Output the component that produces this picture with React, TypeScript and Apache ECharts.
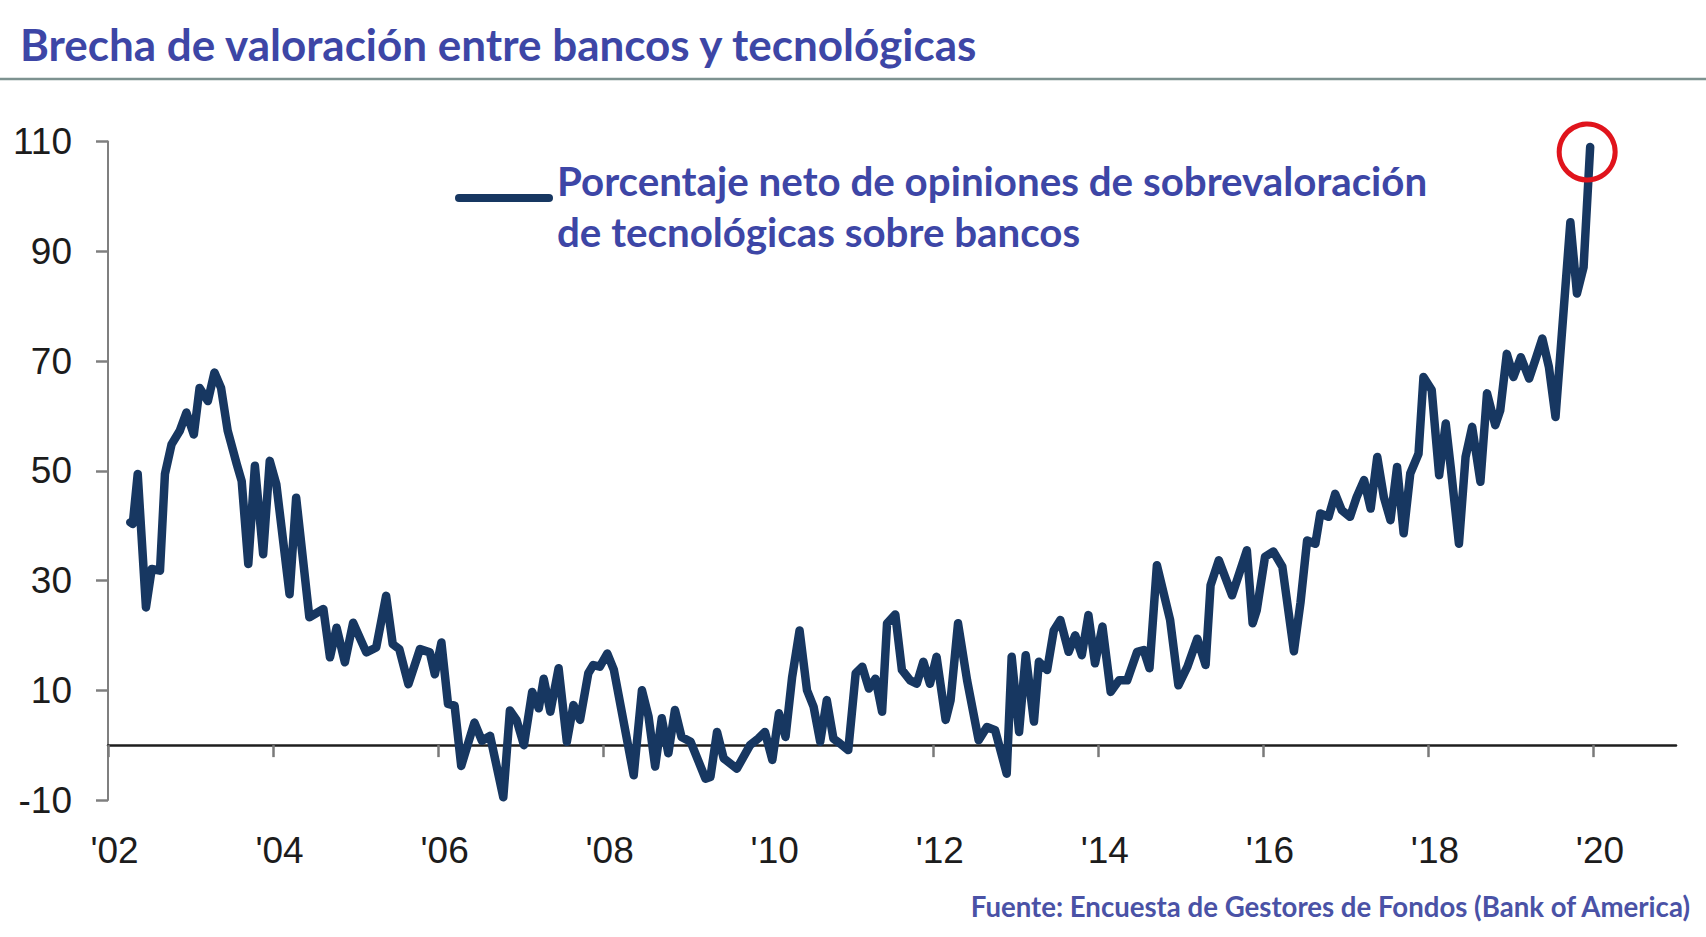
import React, { useEffect, useRef } from 'react';
import * as echarts from 'echarts';

// Survey dates (decimal years) and net % of managers saying tech is overvalued vs banks
const years: number[] = [
  2002.27, 2002.30, 2002.36, 2002.46, 2002.53, 2002.63, 2002.69, 2002.77, 2002.87, 2002.95,
  2003.04, 2003.11, 2003.21, 2003.29, 2003.37, 2003.45, 2003.56, 2003.62, 2003.70, 2003.78,
  2003.88, 2003.96, 2004.04, 2004.20, 2004.28, 2004.44, 2004.61, 2004.69, 2004.77, 2004.87,
  2004.97, 2005.13, 2005.25, 2005.37, 2005.45, 2005.53, 2005.64, 2005.78, 2005.90, 2005.96,
  2006.04, 2006.12, 2006.20, 2006.28, 2006.44, 2006.53, 2006.63, 2006.79, 2006.87, 2006.95,
  2007.04, 2007.14, 2007.22, 2007.28, 2007.36, 2007.46, 2007.56, 2007.64, 2007.72, 2007.82,
  2007.88, 2007.96, 2008.05, 2008.13, 2008.37, 2008.47, 2008.55, 2008.63, 2008.71, 2008.79,
  2008.87, 2008.95, 2009.06, 2009.24, 2009.30, 2009.38, 2009.46, 2009.62, 2009.78, 2009.88,
  2009.96, 2010.05, 2010.13, 2010.21, 2010.29, 2010.38, 2010.47, 2010.55, 2010.63, 2010.71,
  2010.79, 2010.87, 2010.97, 2011.06, 2011.14, 2011.22, 2011.30, 2011.38, 2011.44, 2011.54,
  2011.62, 2011.72, 2011.80, 2011.88, 2011.96, 2012.04, 2012.15, 2012.21, 2012.30, 2012.41,
  2012.55, 2012.65, 2012.75, 2012.89, 2012.95, 2013.04, 2013.12, 2013.22, 2013.28, 2013.38,
  2013.46, 2013.54, 2013.64, 2013.72, 2013.80, 2013.88, 2013.96, 2014.05, 2014.15, 2014.25,
  2014.35, 2014.47, 2014.55, 2014.62, 2014.71, 2014.87, 2014.97, 2015.08, 2015.20, 2015.30,
  2015.36, 2015.46, 2015.62, 2015.80, 2015.87, 2015.92, 2016.02, 2016.12, 2016.23, 2016.37,
  2016.45, 2016.53, 2016.63, 2016.69, 2016.79, 2016.87, 2016.95, 2017.05, 2017.13, 2017.22,
  2017.30, 2017.38, 2017.46, 2017.54, 2017.62, 2017.70, 2017.78, 2017.88, 2017.94, 2018.04,
  2018.13, 2018.21, 2018.27, 2018.37, 2018.45, 2018.53, 2018.63, 2018.71, 2018.81, 2018.87,
  2018.95, 2019.03, 2019.12, 2019.22, 2019.30, 2019.38, 2019.46, 2019.54, 2019.72, 2019.80,
  2019.88, 2019.96,
];

const values: number[] = [
  40.6, 40.3, 49.4, 25.1, 32.1, 31.8, 49.4, 54.8, 57.3, 60.6,
  56.6, 65.1, 62.7, 67.9, 65.1, 57.3, 51.2, 48.1, 33.0, 50.9,
  34.8, 51.8, 47.5, 27.5, 45.1, 23.3, 24.8, 16.0, 21.4, 15.1,
  22.3, 16.9, 17.8, 27.2, 18.4, 17.5, 11.1, 17.5, 16.9, 12.9,
  18.7, 7.5, 7.2, -3.8, 4.1, 0.8, 1.7, -9.5, 6.3, 4.6,
  0.0, 9.7, 6.7, 12.1, 6.1, 14.0, 0.6, 7.3, 4.6, 13.1,
  14.6, 14.3, 16.7, 13.7, -5.5, 10.0, 5.2, -3.9, 4.9, -1.5,
  6.4, 1.5, 0.6, -6.1, -5.8, 2.4, -2.4, -4.3, 0.0, 1.2,
  2.4, -2.7, 5.8, 1.5, 12.4, 20.9, 10.0, 7.0, 0.6, 8.2,
  1.2, 0.3, -0.9, 13.1, 14.3, 10.3, 12.1, 6.1, 22.2, 23.8,
  13.7, 11.8, 11.2, 15.2, 11.2, 16.1, 4.6, 8.2, 22.2, 11.8,
  0.9, 3.3, 2.7, -5.2, 16.1, 2.4, 16.4, 4.3, 15.2, 13.7,
  20.9, 22.8, 17.0, 20.0, 16.4, 23.7, 14.9, 21.6, 9.7, 11.8,
  11.8, 17.0, 17.3, 14.0, 32.8, 22.8, 10.9, 14.3, 19.4, 14.6,
  29.1, 33.7, 27.3, 35.5, 22.2, 24.6, 34.3, 35.3, 32.5, 17.1,
  26.0, 37.3, 36.7, 42.2, 41.6, 45.8, 42.8, 41.6, 45.2, 48.3,
  43.1, 52.5, 45.2, 41.0, 50.7, 38.6, 49.5, 53.1, 67.1, 64.7,
  49.2, 58.6, 50.7, 36.7, 52.5, 58.0, 48.0, 64.1, 58.3, 61.0,
  71.3, 67.1, 70.7, 66.8, 70.4, 74.1, 68.9, 59.8, 95.3, 82.3,
  87.1, 109.0,
];

const yTicks: number[] = [-10, 10, 30, 50, 70, 90, 110];
const xTicks: number[] = [2002, 2004, 2006, 2008, 2010, 2012, 2014, 2016, 2018, 2020];

const titleText = 'Brecha de valoración entre bancos y tecnológicas';
const seriesName = 'Porcentaje neto de opiniones de sobrevaloración\nde tecnológicas sobre bancos';
const legendLines: string[] = [
  'Porcentaje neto de opiniones de sobrevaloración',
  'de tecnológicas sobre bancos',
];
const sourceText = 'Fuente: Encuesta de Gestores de Fondos (Bank of America)';

const NAVY = '#173761';
const INDIGO = '#3D46A6';

export default function App() {
  const ref = useRef<HTMLDivElement>(null);

  useEffect(() => {
    if (!ref.current) return;
    const chart = echarts.init(ref.current, null, { renderer: 'svg' });
    const data = years.map((y, i) => [y, values[i]]);
    const last = data[data.length - 1];

    chart.setOption({
      animation: false,
      backgroundColor: '#ffffff',
      grid: { left: 108, right: 30, top: 141.5, bottom: 137, outerBoundsMode: 'none' },
      xAxis: [
        {
          type: 'value',
          min: 2002,
          max: 2021,
          axisLine: { show: true, onZero: true, lineStyle: { color: '#1e1e1e', width: 2.5 } },
          axisTick: { show: true, customValues: xTicks, length: 12, lineStyle: { color: '#7a7a7a', width: 2.5 } },
          axisLabel: { show: false },
          splitLine: { show: false },
        },
        {
          type: 'value',
          min: 2002,
          max: 2021,
          position: 'bottom',
          axisLine: { show: false, onZero: false },
          axisTick: { show: false },
          axisLabel: {
            show: true,
            customValues: xTicks,
            formatter: (v: number) => "'" + String(v).slice(2),
            fontFamily: 'Liberation Sans',
            fontSize: 37,
            color: '#1c1c1c',
            margin: 32,
            padding: [0, 0, 0, 13],
          },
          splitLine: { show: false },
        },
      ],
      yAxis: {
        type: 'value',
        min: -10,
        max: 110,
        axisLine: { show: true, onZero: false, lineStyle: { color: '#7f7f7f', width: 2 } },
        axisTick: { show: true, customValues: yTicks, length: 12, lineStyle: { color: '#7f7f7f', width: 2.5 } },
        axisLabel: {
          show: true,
          customValues: yTicks,
          fontFamily: 'Liberation Sans',
          fontSize: 37,
          color: '#1c1c1c',
          margin: 36,
        },
        splitLine: { show: false },
      },
      series: [
        {
          name: seriesName,
          type: 'line',
          xAxisIndex: 0,
          yAxisIndex: 0,
          data,
          symbol: 'none',
          showSymbol: false,
          clip: false,
          lineStyle: { color: NAVY, width: 8.5, join: 'round', cap: 'round' },
          markPoint: {
            symbol: 'circle',
            symbolSize: 56,
            symbolOffset: [-3, 5],
            label: { show: false },
            itemStyle: { color: 'rgba(0,0,0,0)', borderColor: '#E0141C', borderWidth: 5 },
            data: [{ coord: last }],
          },
        },
      ],
      graphic: [
        {
          type: 'text',
          x: 20,
          y: 44,
          style: { text: titleText, font: 'bold 44px Lato', fill: INDIGO, align: 'left', verticalAlign: 'middle' },
        },
        {
          type: 'line',
          shape: { x1: 0, y1: 79, x2: 1706, y2: 79 },
          style: { stroke: '#7d9290', lineWidth: 2.5 },
        },
        {
          type: 'line',
          shape: { x1: 459, y1: 198, x2: 549, y2: 198 },
          style: { stroke: NAVY, lineWidth: 8, lineCap: 'round' },
        },
        {
          type: 'text',
          x: 557,
          y: 180,
          style: { text: legendLines[0], font: 'bold 40.3px Lato', fill: INDIGO, align: 'left', verticalAlign: 'middle' },
        },
        {
          type: 'text',
          x: 557,
          y: 231,
          style: { text: legendLines[1], font: 'bold 40.3px Lato', fill: INDIGO, align: 'left', verticalAlign: 'middle' },
        },
        {
          type: 'text',
          x: 1690,
          y: 906,
          style: { text: sourceText, font: 'bold 27.6px Lato', fill: '#4a52a6', align: 'right', verticalAlign: 'middle' },
        },
      ],
    });

    return () => chart.dispose();
  }, []);

  return (
    <div
      ref={ref}
      style={{ position: 'fixed', left: 0, top: 0, width: '1706px', height: '937px', background: '#fff' }}
    />
  );
}
